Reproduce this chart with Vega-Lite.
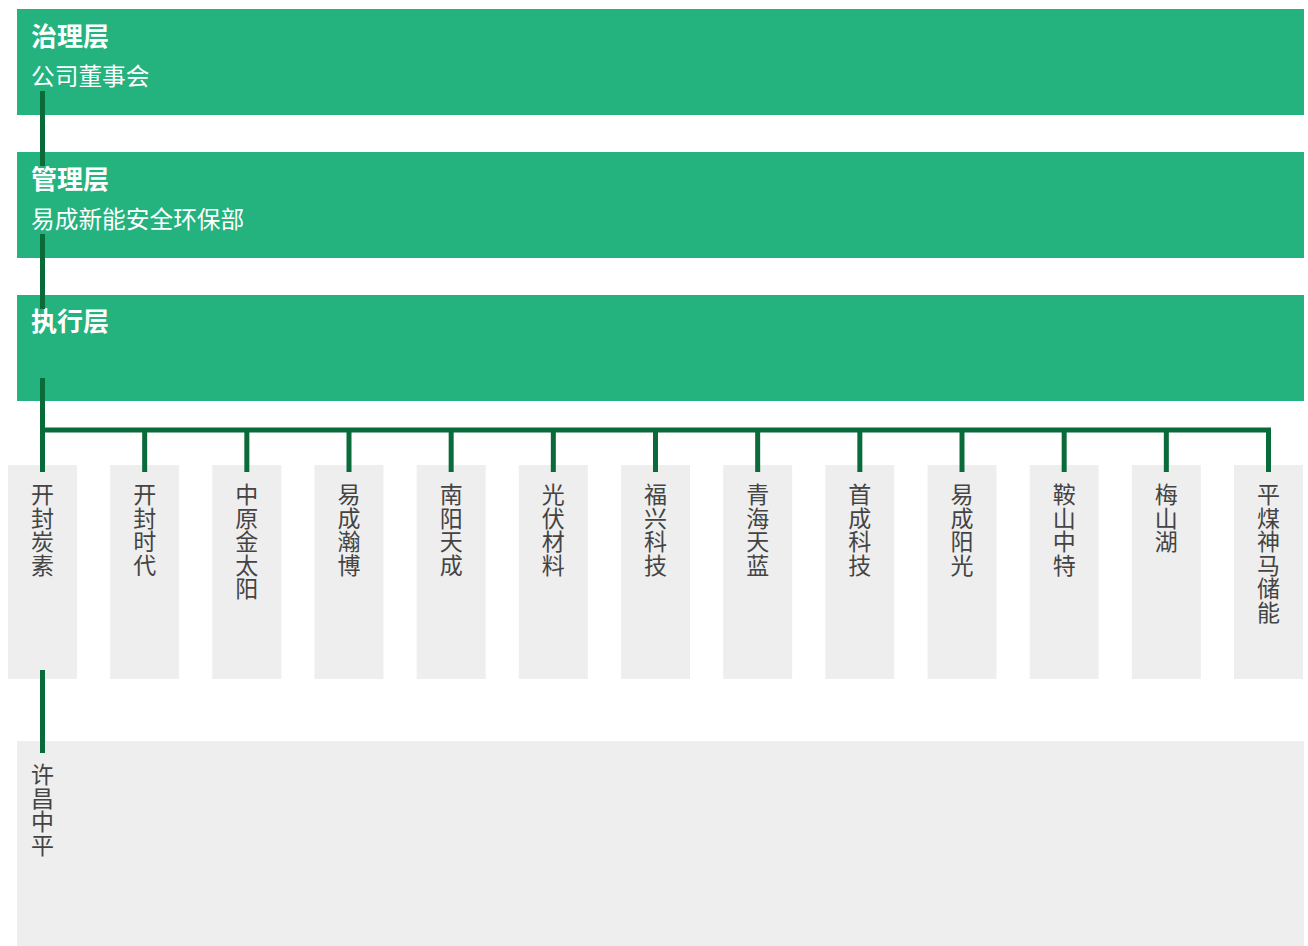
{
  "$schema": "https://vega.github.io/schema/vega-lite/v6.json",
  "width": 1287,
  "height": 937,
  "padding": {"left": 17, "top": 9, "right": 4, "bottom": 0},
  "autosize": {"type": "none"},
  "background": "#ffffff",
  "config": {"view": {"stroke": null}, "text": {"font": "Noto Sans CJK SC"}},
  "datasets": {
    "levels": [
      {"level": "治理层", "unit": "公司董事会"},
      {"level": "管理层", "unit": "易成新能安全环保部"},
      {"level": "执行层", "unit": ""}
    ],
    "levelLinks": [
      {"from": "治理层", "to": "管理层"},
      {"from": "管理层", "to": "执行层"}
    ],
    "companies": [
      {"name": "开封炭素", "parent": "执行层", "tier": "子公司"},
      {"name": "开封时代", "parent": "执行层", "tier": "子公司"},
      {"name": "中原金太阳", "parent": "执行层", "tier": "子公司"},
      {"name": "易成瀚博", "parent": "执行层", "tier": "子公司"},
      {"name": "南阳天成", "parent": "执行层", "tier": "子公司"},
      {"name": "光伏材料", "parent": "执行层", "tier": "子公司"},
      {"name": "福兴科技", "parent": "执行层", "tier": "子公司"},
      {"name": "青海天蓝", "parent": "执行层", "tier": "子公司"},
      {"name": "首成科技", "parent": "执行层", "tier": "子公司"},
      {"name": "易成阳光", "parent": "执行层", "tier": "子公司"},
      {"name": "鞍山中特", "parent": "执行层", "tier": "子公司"},
      {"name": "梅山湖", "parent": "执行层", "tier": "子公司"},
      {"name": "平煤神马储能", "parent": "执行层", "tier": "子公司"}
    ],
    "bus": [{"first": "开封炭素", "last": "平煤神马储能", "tier": "子公司"}],
    "subsidiaries": [{"name": "许昌中平", "parent": "开封炭素", "tier": "下属公司"}]
  },
  "resolve": {"scale": {"y": "independent"}},
  "layer": [
    {
      "data": {"name": "levels"},
      "layer": [
        {
          "mark": {"type": "rect", "color": "#24b27e"},
          "encoding": {
            "y": {"field": "level", "type": "nominal", "axis": null, "sort": null,
                  "scale": {"domain": ["治理层", "管理层", "执行层"], "range": [0, 392], "paddingInner": 0.2587, "paddingOuter": 0}}
          }
        },
        {
          "mark": {"type": "text", "align": "left", "baseline": "middle", "dx": 14, "dy": -24.5, "fontSize": 26, "fontWeight": "bold", "color": "#ffffff"},
          "encoding": {
            "x": {"value": 0},
            "y": {"field": "level", "type": "nominal", "axis": null, "sort": null,
                  "scale": {"domain": ["治理层", "管理层", "执行层"], "range": [0, 392], "paddingInner": 0.2587, "paddingOuter": 0}},
            "text": {"field": "level", "type": "nominal"}
          }
        },
        {
          "mark": {"type": "text", "align": "left", "baseline": "middle", "dx": 14, "dy": 16, "fontSize": 23.7, "color": "#ffffff"},
          "encoding": {
            "x": {"value": 0},
            "y": {"field": "level", "type": "nominal", "axis": null, "sort": null,
                  "scale": {"domain": ["治理层", "管理层", "执行层"], "range": [0, 392], "paddingInner": 0.2587, "paddingOuter": 0}},
            "text": {"field": "unit", "type": "nominal"}
          }
        },
        {
          "data": {"name": "levelLinks"},
          "mark": {"type": "rule", "color": "#0a6b3a", "strokeWidth": 5, "yOffset": 29, "y2Offset": -39},
          "encoding": {
            "x": {"datum": "开封炭素", "type": "nominal", "axis": null,
                  "scale": {"domain": ["开封炭素", "开封时代", "中原金太阳", "易成瀚博", "南阳天成", "光伏材料", "福兴科技", "青海天蓝", "首成科技", "易成阳光", "鞍山中特", "梅山湖", "平煤神马储能"], "range": [-9, 1286], "paddingInner": 0.3247, "paddingOuter": 0}},
            "y": {"field": "from", "type": "nominal", "axis": null,
                  "scale": {"domain": ["治理层", "管理层", "执行层"], "range": [0, 392], "paddingInner": 0.2587, "paddingOuter": 0}},
            "y2": {"field": "to"}
          }
        }
      ]
    },
    {
      "data": {"name": "companies"},
      "layer": [
        {
          "mark": {"type": "rect", "color": "#eeeeee"},
          "encoding": {
            "x": {"field": "name", "type": "nominal", "axis": null, "sort": null,
                  "scale": {"domain": ["开封炭素", "开封时代", "中原金太阳", "易成瀚博", "南阳天成", "光伏材料", "福兴科技", "青海天蓝", "首成科技", "易成阳光", "鞍山中特", "梅山湖", "平煤神马储能"], "range": [-9, 1286], "paddingInner": 0.3247, "paddingOuter": 0}},
            "y": {"field": "tier", "type": "nominal", "axis": null,
                  "scale": {"domain": ["子公司"], "range": [456, 670], "paddingInner": 0, "paddingOuter": 0}}
          }
        },
        {
          "transform": [{"calculate": "split(datum.name, '')", "as": "chars"}],
          "mark": {"type": "text", "align": "center", "baseline": "top", "dy": -87, "fontSize": 23, "lineHeight": 23.6, "color": "#444444"},
          "encoding": {
            "x": {"field": "name", "type": "nominal", "axis": null, "sort": null,
                  "scale": {"domain": ["开封炭素", "开封时代", "中原金太阳", "易成瀚博", "南阳天成", "光伏材料", "福兴科技", "青海天蓝", "首成科技", "易成阳光", "鞍山中特", "梅山湖", "平煤神马储能"], "range": [-9, 1286], "paddingInner": 0.3247, "paddingOuter": 0}},
            "y": {"field": "tier", "type": "nominal", "axis": null,
                  "scale": {"domain": ["子公司"], "range": [456, 670], "paddingInner": 0, "paddingOuter": 0}},
            "text": {"field": "chars", "type": "nominal"}
          }
        },
        {
          "mark": {"type": "rule", "color": "#0a6b3a", "strokeWidth": 5, "yOffset": -142, "y2Offset": -100},
          "encoding": {
            "x": {"field": "name", "type": "nominal", "axis": null, "sort": null,
                  "scale": {"domain": ["开封炭素", "开封时代", "中原金太阳", "易成瀚博", "南阳天成", "光伏材料", "福兴科技", "青海天蓝", "首成科技", "易成阳光", "鞍山中特", "梅山湖", "平煤神马储能"], "range": [-9, 1286], "paddingInner": 0.3247, "paddingOuter": 0}},
            "y": {"datum": "子公司", "type": "nominal", "axis": null,
                  "scale": {"domain": ["子公司"], "range": [456, 670], "paddingInner": 0, "paddingOuter": 0}},
            "y2": {"datum": "子公司"}
          }
        },
        {
          "data": {"name": "bus"},
          "mark": {"type": "rule", "color": "#0a6b3a", "strokeWidth": 5, "strokeCap": "square", "yOffset": -142},
          "encoding": {
            "x": {"field": "first", "type": "nominal", "axis": null,
                  "scale": {"domain": ["开封炭素", "开封时代", "中原金太阳", "易成瀚博", "南阳天成", "光伏材料", "福兴科技", "青海天蓝", "首成科技", "易成阳光", "鞍山中特", "梅山湖", "平煤神马储能"], "range": [-9, 1286], "paddingInner": 0.3247, "paddingOuter": 0}},
            "x2": {"field": "last"},
            "y": {"field": "tier", "type": "nominal", "axis": null,
                  "scale": {"domain": ["子公司"], "range": [456, 670], "paddingInner": 0, "paddingOuter": 0}}
          }
        },
        {
          "data": {"name": "bus"},
          "mark": {"type": "rule", "color": "#0a6b3a", "strokeWidth": 5, "yOffset": -194, "y2Offset": -100},
          "encoding": {
            "x": {"field": "first", "type": "nominal", "axis": null,
                  "scale": {"domain": ["开封炭素", "开封时代", "中原金太阳", "易成瀚博", "南阳天成", "光伏材料", "福兴科技", "青海天蓝", "首成科技", "易成阳光", "鞍山中特", "梅山湖", "平煤神马储能"], "range": [-9, 1286], "paddingInner": 0.3247, "paddingOuter": 0}},
            "y": {"field": "tier", "type": "nominal", "axis": null,
                  "scale": {"domain": ["子公司"], "range": [456, 670], "paddingInner": 0, "paddingOuter": 0}},
            "y2": {"field": "tier"}
          }
        }
      ]
    },
    {
      "data": {"name": "subsidiaries"},
      "layer": [
        {
          "mark": {"type": "rect", "color": "#eeeeee"},
          "encoding": {
            "y": {"field": "tier", "type": "nominal", "axis": null,
                  "scale": {"domain": ["下属公司"], "range": [732, 937], "paddingInner": 0, "paddingOuter": 0}}
          }
        },
        {
          "transform": [{"calculate": "split(datum.name, '')", "as": "chars"}],
          "mark": {"type": "text", "align": "center", "baseline": "top", "dy": -78.5, "fontSize": 23, "lineHeight": 23.6, "color": "#444444"},
          "encoding": {
            "x": {"field": "parent", "type": "nominal", "axis": null,
                  "scale": {"domain": ["开封炭素", "开封时代", "中原金太阳", "易成瀚博", "南阳天成", "光伏材料", "福兴科技", "青海天蓝", "首成科技", "易成阳光", "鞍山中特", "梅山湖", "平煤神马储能"], "range": [-9, 1286], "paddingInner": 0.3247, "paddingOuter": 0}},
            "y": {"field": "tier", "type": "nominal", "axis": null,
                  "scale": {"domain": ["下属公司"], "range": [732, 937], "paddingInner": 0, "paddingOuter": 0}},
            "text": {"field": "chars", "type": "nominal"}
          }
        },
        {
          "mark": {"type": "rule", "color": "#0a6b3a", "strokeWidth": 5, "yOffset": -173.5, "y2Offset": -90.5},
          "encoding": {
            "x": {"field": "parent", "type": "nominal", "axis": null,
                  "scale": {"domain": ["开封炭素", "开封时代", "中原金太阳", "易成瀚博", "南阳天成", "光伏材料", "福兴科技", "青海天蓝", "首成科技", "易成阳光", "鞍山中特", "梅山湖", "平煤神马储能"], "range": [-9, 1286], "paddingInner": 0.3247, "paddingOuter": 0}},
            "y": {"field": "tier", "type": "nominal", "axis": null,
                  "scale": {"domain": ["下属公司"], "range": [732, 937], "paddingInner": 0, "paddingOuter": 0}},
            "y2": {"field": "tier"}
          }
        }
      ]
    }
  ]
}
